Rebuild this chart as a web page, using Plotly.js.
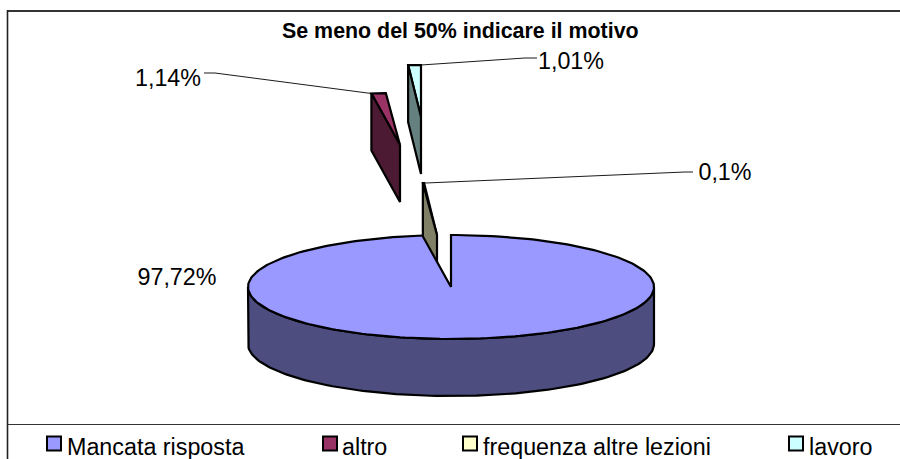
<!DOCTYPE html>
<html><head><meta charset="utf-8">
<script src="https://cdn.plot.ly/plotly-3.0.0.min.js"></script>
<style>html,body{margin:0;padding:0;background:#fff}#c{width:900px;height:459px}</style>
</head><body><div id="c"></div>
<script>
const categories = ['Mancata risposta','altro','frequenza altre lezioni','lavoro'];
const shares = [97.72, 1.14, 0.1, 1.01];
const labelTexts = ['97,72%','1,14%','0,1%','1,01%'];
const titleText = 'Se meno del 50% indicare il motivo';

const topColors = ['#9999FF','#993366','#FFFFCC','#CCFFFF'];
const wallColors = ['#4D4D80','#4D1A33','#808066','#668080'];

// Projection of the tilted pie
const cx=451, cy=287, rx=203, ry=52, depth=57;
const explodeX=[0,-51,-14,-30], explodeY=[0,-142,-52,-170];
const total=shares.reduce((a,b)=>a+b,0);
const starts=[]; let acc=0;
shares.forEach(v=>{starts.push(acc); acc+=v/total*2*Math.PI;});
const ends=starts.map((s,i)=>s+shares[i]/total*2*Math.PI);
function rim(a,i,dz){return [cx+explodeX[i]+rx*Math.sin(a), cy+explodeY[i]-ry*Math.cos(a)+(dz||0)];}
function apex(i,dz){return [cx+explodeX[i], cy+explodeY[i]+(dz||0)];}
function arc(a0,a1,i,dz){const n=Math.max(2,Math.ceil(Math.abs(a1-a0)*40)),p=[];
  for(let k=0;k<=n;k++)p.push(rim(a0+(a1-a0)*k/n,i,dz));return p;}
function poly(pts,fill,name){const xs=pts.map(p=>p[0]).concat(pts[0][0]),ys=pts.map(p=>p[1]).concat(pts[0][1]);
  return {type:'scatter',mode:'lines',x:xs,y:ys,fill:'toself',fillcolor:fill,
    line:{color:'#000',width:2.2,shape:'linear'},name:name,hoverinfo:'name',showlegend:false,cliponaxis:false};}

const traces=[];
function cutFace(i,a){return [apex(i),rim(a,i),rim(a,i,depth),apex(i,depth)];}
function slice(i){
  traces.push(poly([apex(i)].concat(arc(starts[i],ends[i],i)),topColors[i],categories[i]));
  traces.push(poly(cutFace(i,starts[i]),wallColors[i],categories[i]));
}
slice(1); slice(3); slice(2);
// main slice: outer wall, then top
traces.push(poly(arc(Math.PI/2,3*Math.PI/2,0).concat(arc(3*Math.PI/2,Math.PI/2,0,depth)),wallColors[0],categories[0]));
traces.push(poly([apex(0)].concat(arc(starts[0],ends[0],0)),topColors[0],categories[0]));

// leader lines
const leaders=[
  {from:[204,73],mid:[215,73],at:rim(starts[1],1)},
  {from:[537,58],mid:[525,58],at:rim(ends[3],3)},
  {from:[693,172],mid:[685,172],at:rim(starts[2],2)}
];
leaders.forEach(l=>traces.push({type:'scatter',mode:'lines',x:[l.from[0],l.mid[0],l.at[0]],y:[l.from[1],l.mid[1],l.at[1]],
  line:{color:'#000',width:0.9},hoverinfo:'skip',showlegend:false}));

// data labels
const labelX=[177,168,725,571], labelY=[279,80,174,63];
traces.push({type:'scatter',mode:'text',x:labelX,y:labelY,text:labelTexts,textposition:'middle center',
  textfont:{family:'Liberation Sans, Arial, sans-serif',size:23.3,color:'#000'},hoverinfo:'skip',showlegend:false});

// legend row
const legendX=[54,330,470,796], legendY=[443.5,443.5,443.5,443.5];
const legendTextX=[67,342,483,809], legendTextY=[449,449,449,449];
traces.push({type:'scatter',mode:'markers',x:legendX,y:legendY,
  marker:{symbol:'square',size:14,color:topColors,line:{color:'#000',width:2}},
  cliponaxis:false,hoverinfo:'skip',showlegend:false});
traces.push({type:'scatter',mode:'text',x:legendTextX,y:legendTextY,text:categories,textposition:'middle right',
  textfont:{family:'Liberation Sans, Arial, sans-serif',size:23.3,color:'#000'},cliponaxis:false,hoverinfo:'skip',showlegend:false});

const layout={width:900,height:459,margin:{l:0,r:0,t:0,b:0},paper_bgcolor:'#fff',plot_bgcolor:'#fff',showlegend:false,
  xaxis:{range:[0,900],visible:false,fixedrange:true},
  yaxis:{range:[459,0],visible:false,fixedrange:true},
  shapes:[
    {type:'line',x0:7.5,x1:900,y0:11,y1:11,line:{color:'#333',width:2},layer:'below'},
    {type:'line',x0:7.5,x1:7.5,y0:10,y1:459,line:{color:'#222',width:1.6},layer:'below'},
    {type:'line',x0:7.5,x1:900,y0:424.5,y1:424.5,line:{color:'#333',width:1.2},layer:'below'}
  ],
  annotations:[{text:'<b>'+titleText+'</b>',x:460,y:31,xref:'x',yref:'y',showarrow:false,
    font:{family:'Liberation Sans, Arial, sans-serif',size:21.4,color:'#000'}}]
};
Plotly.newPlot('c',traces,layout,{displayModeBar:false,staticPlot:true});
</script></body></html>
